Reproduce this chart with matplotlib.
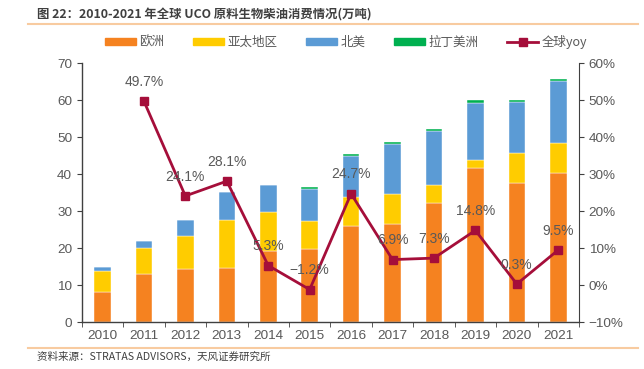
import matplotlib
matplotlib.use("Agg")
import matplotlib.pyplot as plt
import numpy as np
from matplotlib.lines import Line2D
from matplotlib.patches import Patch

plt.rcParams['font.family'] = ['Noto Sans CJK SC', 'DejaVu Sans']

years = ['2010', '2011', '2012', '2013', '2014', '2015', '2016', '2017', '2018', '2019', '2020', '2021']
europe = [8.2, 13.0, 14.4, 14.7, 19.2, 19.8, 26.0, 26.6, 32.2, 41.7, 37.6, 40.3]
apac = [5.6, 7.1, 9.0, 13.0, 10.5, 7.5, 7.7, 8.0, 4.8, 2.2, 8.2, 8.0]
namerica = [1.0, 1.9, 4.1, 7.4, 7.3, 8.7, 11.3, 13.6, 14.6, 15.3, 13.6, 16.8]
latam = [0.0, 0.0, 0.0, 0.0, 0.0, 0.5, 0.5, 0.6, 0.6, 0.7, 0.7, 0.7]
yoy = [None, 49.7, 24.1, 28.1, 5.3, -1.2, 24.7, 6.9, 7.3, 14.8, 0.3, 9.5]

c_eu = '#F58220'
c_ap = '#FFCC00'
c_na = '#5B9BD5'
c_la = '#00B050'
c_line = '#A50E3A'
gray = '#595959'
numfont = ['Liberation Sans', 'DejaVu Sans']

fig = plt.figure(figsize=(6.44, 3.69), dpi=100)
ax = fig.add_axes([0.127, 0.127, 0.772, 0.702])
x = np.arange(len(years))
w = 0.40
eu = np.array(europe); ap = np.array(apac); na = np.array(namerica); la = np.array(latam)
kw = dict(edgecolor='#FFFFFF', linewidth=0.3, zorder=2)
ax.bar(x, eu, w, color=c_eu, **kw)
ax.bar(x, ap, w, bottom=eu, color=c_ap, **kw)
ax.bar(x, na, w, bottom=eu + ap, color=c_na, **kw)
ax.bar(x, la, w, bottom=eu + ap + na, color=c_la, **kw)
ax.set_xlim(-0.5, len(years) - 0.5)
ax.set_ylim(0, 70)
ax.set_yticks(range(0, 71, 10))
ax.set_xticks(x)
ax.set_xticklabels(years, family=numfont)
ax.set_yticks(range(0, 71, 10))
ax.set_yticklabels([str(v) for v in range(0, 71, 10)], family=numfont)
ax.set_xticks(np.arange(-0.5, len(years), 1), minor=True)
ax.tick_params(axis='x', which='major', length=0, colors=gray, labelsize=9.7, pad=6)
ax.tick_params(axis='x', which='minor', length=3.5, direction='out', color='#404040')
ax.tick_params(axis='y', length=3.5, direction='out', colors=gray, labelsize=9.7, color='#404040')
for s in ['top', 'right']:
    ax.spines[s].set_visible(False)
for s in ['left', 'bottom']:
    ax.spines[s].set_color('#404040')
    ax.spines[s].set_linewidth(1.0)

ax2 = ax.twinx()
ax2.set_ylim(-10, 60)
ax2.set_yticks(range(-10, 61, 10))
ax2.set_yticklabels([f'{v}%' if v >= 0 else f'\u2212{abs(v)}%' for v in range(-10, 61, 10)],
                    family=numfont)
ax2.tick_params(axis='y', length=3.5, direction='out', colors=gray, labelsize=9.7, color='#404040')
for s in ['top', 'left', 'bottom']:
    ax2.spines[s].set_visible(False)
ax2.spines['right'].set_color('#404040')
xi = [i for i, v in enumerate(yoy) if v is not None]
yv = [v for v in yoy if v is not None]
ax2.plot(xi, yv, color=c_line, lw=2, marker='s', ms=5.5, zorder=5)
for i, v in zip(xi, yv):
    lab = f'{v:.1f}%' if v >= 0 else f'\u2212{abs(v):.1f}%'
    ax2.annotate(lab, (i, v), xytext=(0, 14), textcoords='offset points',
                 ha='center', va='center', fontsize=10, color=gray, family=numfont, zorder=6)

fig.text(0.057, 0.959, '图 22：2010-2021 年全球 UCO 原料生物柴油消费情况(万吨)',
         fontsize=8.9, fontweight='bold', color='#3F3F3F', va='center', ha='left')
fig.add_artist(Line2D([0.043, 0.99], [0.934, 0.934], color='#F8CBA0', lw=1.5))
fig.add_artist(Line2D([0.043, 0.99], [0.058, 0.058], color='#F8CBA0', lw=1.5))
fig.text(0.057, 0.033, '资料来源：STRATAS ADVISORS，天风证券研究所',
         fontsize=7.6, color='#404040', va='center', ha='left')

handles = [Patch(color=c_eu, label='欧洲'), Patch(color=c_ap, label='亚太地区'),
           Patch(color=c_na, label='北美'), Patch(color=c_la, label='拉丁美洲'),
           Line2D([0], [0], color=c_line, lw=2, marker='s', ms=5.5, label='全球yoy')]
fig.legend(handles=handles, loc='center', bbox_to_anchor=(0.537, 0.887), ncol=5, frameon=False,
           fontsize=9, labelcolor=gray, handlelength=2.5, handleheight=0.5, columnspacing=2.3,
           handletextpad=0.25, borderpad=0, borderaxespad=0)

fig.savefig('out.png', dpi=100)
